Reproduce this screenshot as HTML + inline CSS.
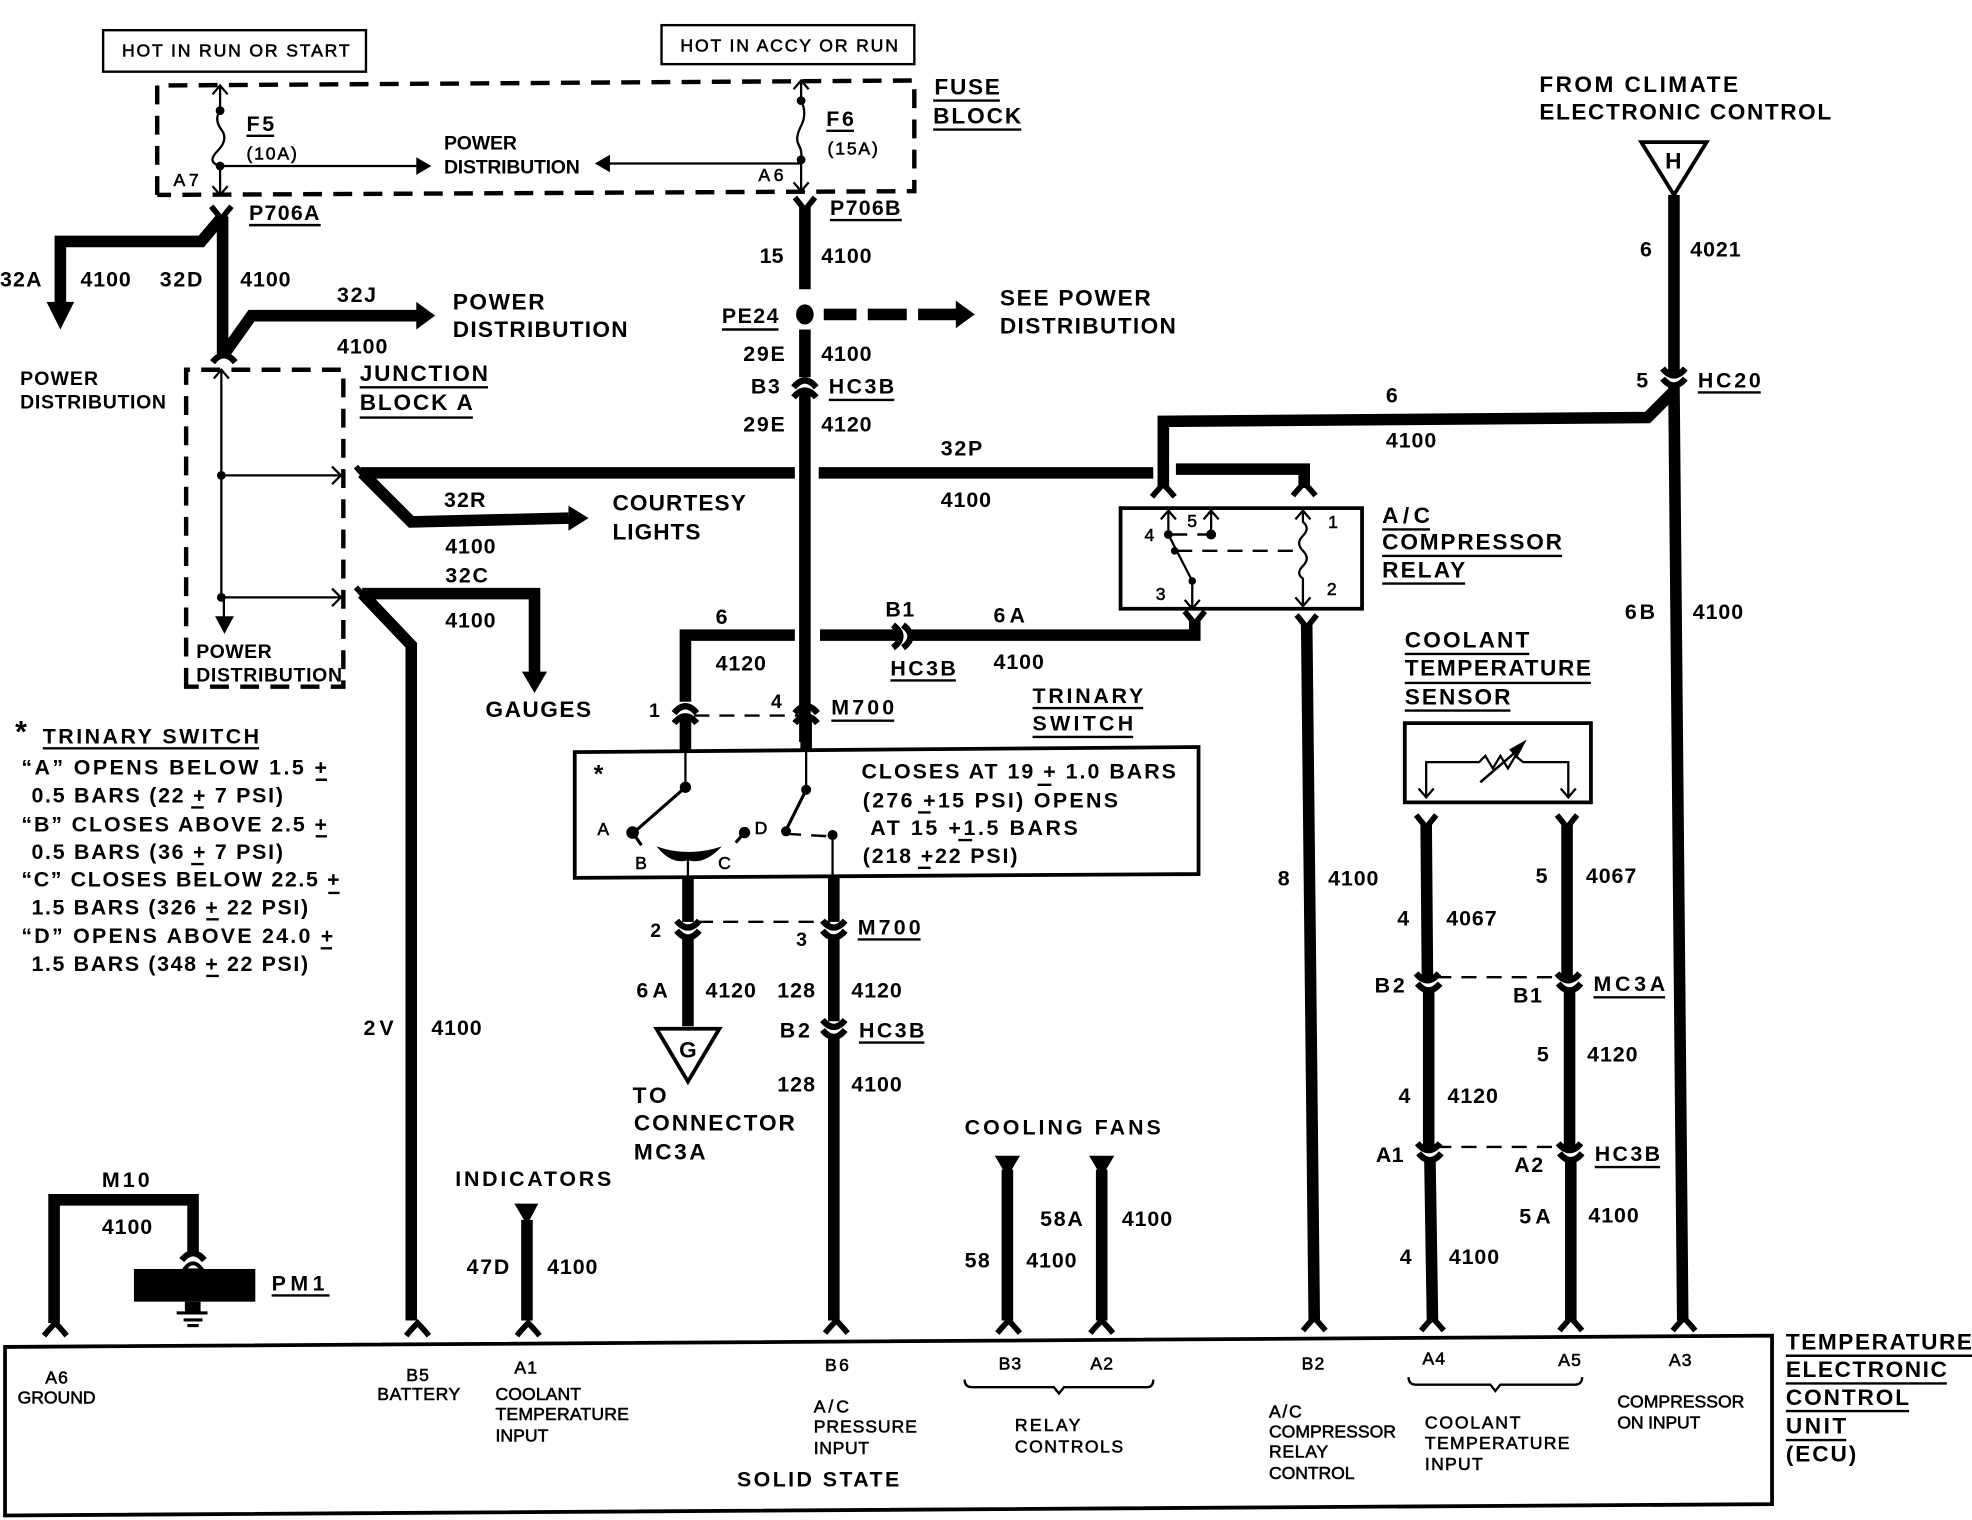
<!DOCTYPE html>
<html><head><meta charset="utf-8"><title>Wiring diagram</title>
<style>
html,body{margin:0;padding:0;background:#fff}
svg{display:block}
text{font-family:"Liberation Sans",sans-serif;font-weight:bold;font-size:17px;fill:#000}
.s{font-size:14px;font-weight:normal;stroke:#000;stroke-width:.45}
.m{font-size:15.5px}.l{font-size:18px}
.w{fill:none;stroke:#000;stroke-width:9.2}
.t{fill:none;stroke:#000;stroke-width:1.8}
.u{fill:none;stroke:#000;stroke-width:1.9}
.d{fill:none;stroke:#000;stroke-width:3.5;stroke-dasharray:15 9}
.h{fill:none;stroke:#000;stroke-width:1.9;stroke-dasharray:12 8}
.b{fill:none;stroke:#000;stroke-width:3}
.k{fill:none;stroke:#000;stroke-width:4.5}
</style></head><body>
<svg xmlns="http://www.w3.org/2000/svg" width="1972" height="1520" viewBox="0 0 1568 1208.6">
<defs>
<path id="a" d="M-9 4Q0 -7 9 4" fill="none" stroke="#000" stroke-width="5"/>
<path id="c" d="M-9 -4Q0 7 9 -4" fill="none" stroke="#000" stroke-width="5"/>
<path id="y" d="M-8 -8L0 2L8 -8" fill="none" stroke="#000" stroke-width="4.5"/>
<path id="n" d="M-9 8Q-4 2 0 -2Q4 2 9 8" fill="none" stroke="#000" stroke-width="4.5"/>
<path id="up" d="M-6 7L0 0L6 7" fill="none" stroke="#000" stroke-width="1.8"/>
<path id="dn" d="M-6 -7L0 0L6 -7" fill="none" stroke="#000" stroke-width="1.8"/>
</defs>

<rect x="82" y="24" width="209" height="33" class="u"/>
<rect x="526" y="20" width="201" height="31" class="u"/>
<path d="M125 155V68L727 64V152L125 155" class="d"/>
<path d="M148 546V294H273V546Z" class="d"/>

<!-- fuses -->
<path d="M175 68V88Q170 95 176 103T173 120T175 132V155M637 64V80Q642 90 637 100T635 115T637 127V152" class="t"/>
<use href="#up" x="175" y="68"/><use href="#dn" x="175" y="155"/><use href="#up" x="637" y="64"/><use href="#dn" x="637" y="152"/>
<circle cx="175" cy="88" r="3.5"/><circle cx="175" cy="132" r="3.5"/><circle cx="637" cy="80" r="3.5"/><circle cx="637" cy="127" r="3.5"/>
<path d="M175 132H332M637 130H484" class="t"/>
<path d="M343 132L331 125V139ZM473 130L485 123V137Z"/>

<!-- main wires left -->
<use href="#y" x="176" y="172"/><use href="#a" x="178" y="284"/>
<path d="M177 172V282M177 172L160 192H48V242M178 282L200 251H332" class="w"/>
<path d="M37 240H59L48 262ZM331 240L346 251L331 262Z"/>
<!-- junction internals -->
<path d="M176 294V475M176 378H270M176 475H270M178 475V495" class="t"/>
<use href="#up" x="176" y="294"/>
<path d="M264 371L271 378L264 385M264 468L271 475L264 482" class="t"/>
<circle cx="176" cy="378" r="3.5"/><circle cx="176" cy="475" r="3.5"/>
<path d="M171 490H186L178.500 504Z"/>

<!-- 32P, 32R, 32C -->
<path d="M287 376H632M651 376H917M935 373H1037V388M925 388V335L1310 332L1332 310" class="w"/>
<path d="M288 376L327 415L452 412M288 472L327 513V1050M288 472H425V537" class="w"/>
<path d="M452 402L468 412L452 422ZM415 534H435L425 551Z"/>
<path d="M283 371L292 381M283 467L292 477" class="k"/>

<!-- center column -->
<use href="#y" x="640" y="165"/>
<path d="M640 165V230M640 262V300M640 312V590" class="w"/>
<ellipse cx="640" cy="250" rx="7" ry="8"/>
<path d="M655 250H681M690 250H721M730 250H762" class="w"/>
<path d="M760 239L775 250L760 261Z"/>
<use href="#a" x="640" y="304"/><use href="#a" x="640" y="312"/>

<!-- 6 / 6A to relay -->
<path d="M545 558V505H632M652 505H714M725 505H950V494" class="w"/>
<path d="M710 497Q722 506 710 515M718 497Q730 506 718 515" fill="none" stroke="#000" stroke-width="5"/>
<use href="#y" x="950" y="494"/>
<use href="#a" x="545" y="563"/><use href="#a" x="545" y="571"/><use href="#a" x="641" y="563"/><use href="#a" x="641" y="571"/>
<path d="M545 572V597M641 572V597" class="w"/>
<path d="M552 569H636" class="h"/>

<!-- trinary switch box -->
<path d="M457 598L953 594V695L457 698Z" class="b"/>
<path d="M545 597V626M641 597V628M547 680V697M662 663V697" class="t"/>
<path d="M545 626L505 661M641 628L625 660M585 670L592 662M503 662L510 672" fill="none" stroke="#000" stroke-width="2.500"/>
<circle cx="545" cy="626" r="4.500"/><circle cx="641" cy="628" r="4"/><circle cx="503" cy="662" r="5"/><circle cx="625" cy="661" r="4"/><circle cx="662" cy="664" r="4"/><circle cx="592" cy="662" r="4.500"/>
<path d="M625 663L660 665" class="h"/>
<path d="M522 673Q547 682 574 673Q560 688 547 684Q534 688 522 673Z"/>
<path d="M547 697V733M663 697V733" class="w"/>
<path d="M555 733H660" class="h"/>
<use href="#c" x="547" y="736"/><use href="#c" x="547" y="744"/><use href="#c" x="663" y="736"/><use href="#c" x="663" y="744"/>
<path d="M547 746V816M663 746V812M663 826V1050" class="w"/>
<use href="#c" x="663" y="815"/><use href="#c" x="663" y="823"/>
<path d="M522 818H572L547 860Z" fill="#fff" stroke="#000" stroke-width="3"/>
<text x="540" y="841" class="l">G</text>

<!-- H -->
<path d="M1305 113H1357L1331 155Z" fill="#fff" stroke="#000" stroke-width="3"/>
<text x="1324" y="134" class="l">H</text>
<path d="M1331 155V296M1331 306L1338 1050" class="w"/>
<use href="#c" x="1331" y="297"/><use href="#c" x="1331" y="305"/>

<!-- relay -->
<path d="M891 404H1083V484L891 484Z" class="b"/>
<use href="#n" x="925" y="387"/><use href="#n" x="1037" y="386"/>
<path d="M929 406V425L948 462V484M963 406V425M1036 406V415Q1042 420 1036 426T1036 438T1036 450T1036 460V482" class="t"/>
<use href="#up" x="929" y="406"/><use href="#up" x="963" y="406"/><use href="#up" x="1036" y="406"/><use href="#dn" x="948" y="484"/><use href="#dn" x="1036" y="482"/>
<circle cx="929" cy="425" r="3.500"/><circle cx="963" cy="425" r="4"/><circle cx="934" cy="438" r="3"/><circle cx="948" cy="462" r="3"/>
<path d="M932 425H960M936 438H1034" class="h"/>
<use href="#y" x="1039" y="497"/>
<path d="M1039 497L1045 1050" class="w"/>

<!-- sensor -->
<path d="M1117 575H1265V638H1117Z" class="b"/>
<path d="M1134 634V606H1176L1181 601L1187 611L1193 601L1199 611L1205 601L1211 606H1247V634" class="t"/>
<use href="#dn" x="1134" y="634"/><use href="#dn" x="1247" y="634"/>
<path d="M1177 622L1205 598" fill="none" stroke="#000" stroke-width="2"/>
<path d="M1214 588L1200 596L1206 603Z"/>
<use href="#y" x="1134" y="656"/><use href="#y" x="1246" y="656"/>
<path d="M1134 656L1135 778M1246 656V778M1136 788V912M1248 788V912M1137 923L1139 1050M1249 923V1050" class="w"/>
<use href="#c" x="1135" y="778"/><use href="#c" x="1136" y="786"/><use href="#c" x="1247" y="778"/><use href="#c" x="1248" y="786"/>
<use href="#c" x="1136" y="913"/><use href="#c" x="1137" y="921"/><use href="#c" x="1248" y="913"/><use href="#c" x="1249" y="921"/>
<path d="M1142 777H1240M1142 912H1240" class="h"/>

<!-- M10 ground -->
<path d="M43 1052V954H153.500V995" class="w"/>
<use href="#a" x="153.500" y="998"/>
<rect x="106.500" y="1009" width="96.500" height="26"/>
<path d="M146 1010Q153.500 999 161 1010Z" fill="#fff" stroke="#000" stroke-width="3"/>
<rect x="147" y="1035" width="12.500" height="8"/>
<path d="M140.500 1044H165M146 1049.500H161M149 1054H158" fill="none" stroke="#000" stroke-width="2.500"/>

<!-- indicators, fans -->
<path d="M419 970V1050M801 930V1050M876 930V1050" class="w"/>
<path d="M409 957H428L419 974ZM791 919H811L801 936ZM866 919H886L876 936Z"/>
<use href="#n" x="44" y="1054"/><use href="#n" x="332" y="1054"/><use href="#n" x="420" y="1054"/><use href="#n" x="665" y="1052"/><use href="#n" x="802" y="1052"/><use href="#n" x="876" y="1052"/><use href="#n" x="1045" y="1050"/><use href="#n" x="1139" y="1050"/><use href="#n" x="1249" y="1050"/><use href="#n" x="1339" y="1050"/>

<!-- ECU -->
<path d="M4 1071L1409 1062V1196L4 1205Z" class="b"/>
<path d="M767 1097Q767 1103 773 1103H838L842 1108L846 1103H912Q917 1103 917 1097M1120 1095Q1120 1101 1126 1101H1185L1189 1106L1193 1101H1252Q1258 1101 1258 1095" class="u"/>

<!-- underlines -->
<path d="M742 80H795M742 103H812M196 108H218M657 104H679M198 179H255M660 175H717M574 262H619M659 318H711M286 308H388M286 332H376M1099 421H1137M1099 442H1242M1099 464H1165M708 541H760M661 573H711M821 563H909M821 586H901M1117 520H1216M1117 543H1265M1117 565H1201M34 595H206M682 747H732M683 829H735M1350 312H1400M1267 793H1324M1268 928H1320M216 1030H262M1420 1078H1568M1420 1100H1548M1420 1122H1518M1420 1145H1468" class="u"/>
<path d="M251 620H260M152 642H162M251 665H260M152 687H162M261 710H270M164 731H174M255 754H264M164 776H174M825 624H836M730 646H740M762 668H773M730 690H740" class="u"/>

<!-- labels -->
<text x="97" y="45" textLength="181" class="s">HOT IN RUN OR START</text>
<text x="541" y="41" textLength="173" class="s">HOT IN ACCY OR RUN</text>
<text x="743" y="75" textLength="52" class="l">FUSE</text>
<text x="742" y="98" textLength="70" class="l">BLOCK</text>
<text x="196" y="104" textLength="22">F5</text>
<text x="196" y="127" textLength="40" class="s">(10A)</text>
<text x="353" y="119" textLength="58" class="m">POWER</text>
<text x="353" y="138" textLength="108" class="m">DISTRIBUTION</text>
<text x="138" y="148" textLength="20" class="s">A7</text>
<text x="603" y="144" textLength="20" class="s">A6</text>
<text x="657" y="100" textLength="22">F6</text>
<text x="658" y="123" textLength="40" class="s">(15A)</text>
<text x="198" y="175" textLength="56">P706A</text>
<text x="660" y="171" textLength="56">P706B</text>
<text x="1224" y="73" textLength="158" class="l">FROM CLIMATE</text>
<text x="1224" y="95" textLength="232" class="l">ELECTRONIC CONTROL</text>
<text x="604" y="209" textLength="19">15</text><text x="653" y="209" textLength="40">4100</text>
<text x="0" y="228" textLength="33">32A</text><text x="64" y="228" textLength="40">4100</text>
<text x="127" y="228" textLength="34">32D</text><text x="191" y="228" textLength="40">4100</text>
<text x="268" y="240" textLength="31">32J</text>
<text x="360" y="246" textLength="73" class="l">POWER</text>
<text x="360" y="268" textLength="139" class="l">DISTRIBUTION</text>
<text x="268" y="281" textLength="40">4100</text>
<text x="795" y="243" textLength="120" class="l">SEE POWER</text>
<text x="795" y="265" textLength="140" class="l">DISTRIBUTION</text>
<text x="574" y="257" textLength="45">PE24</text>
<text x="591" y="287" textLength="33">29E</text><text x="653" y="287" textLength="40">4100</text>
<text x="597" y="313" textLength="23">B3</text><text x="659" y="313" textLength="52">HC3B</text>
<text x="591" y="343" textLength="33">29E</text><text x="653" y="343" textLength="40">4120</text>
<text x="748" y="362" textLength="33">32P</text><text x="748" y="403" textLength="40">4100</text>
<text x="1102" y="320">6</text><text x="1102" y="356" textLength="40">4100</text>
<text x="16" y="306" textLength="62" class="m">POWER</text>
<text x="16" y="325" textLength="116" class="m">DISTRIBUTION</text>
<text x="286" y="303" textLength="102" class="l">JUNCTION</text>
<text x="286" y="326" textLength="90" class="l">BLOCK A</text>
<text x="353" y="403" textLength="33">32R</text><text x="354" y="440" textLength="40">4100</text>
<text x="487" y="406" textLength="106" class="l">COURTESY</text>
<text x="487" y="429" textLength="70" class="l">LIGHTS</text>
<text x="1099" y="416" textLength="38" class="l">A/C</text>
<text x="1099" y="437" textLength="143" class="l">COMPRESSOR</text>
<text x="1099" y="459" textLength="66" class="l">RELAY</text>
<text x="910" y="430" class="s">4</text><text x="944" y="419" class="s">5</text><text x="1056" y="420" class="s">1</text><text x="919" y="477" class="s">3</text><text x="1055" y="473" class="s">2</text>
<text x="354" y="463" textLength="34">32C</text><text x="354" y="499" textLength="40">4100</text>
<text x="386" y="570" textLength="84" class="l">GAUGES</text>
<text x="156" y="523" textLength="60" class="m">POWER</text>
<text x="156" y="542" textLength="116" class="m">DISTRIBUTION</text>
<text x="569" y="496">6</text><text x="569" y="533" textLength="40">4120</text>
<text x="704" y="490" textLength="23">B1</text><text x="790" y="495" textLength="25">6A</text>
<text x="708" y="537" textLength="52">HC3B</text><text x="790" y="532" textLength="40">4100</text>
<text x="516" y="570" class="m">1</text><text x="613" y="563" class="m">4</text>
<text x="661" y="568" textLength="50">M700</text>
<text x="821" y="559" textLength="88">TRINARY</text>
<text x="821" y="581" textLength="80">SWITCH</text>
<text x="1117" y="515" textLength="99" class="l">COOLANT</text>
<text x="1117" y="537" textLength="148" class="l">TEMPERATURE</text>
<text x="1117" y="560" textLength="84" class="l">SENSOR</text>
<text x="12" y="590" style="font-size:24px">*</text>
<text x="34" y="591" textLength="172">TRINARY SWITCH</text>
<text x="17" y="616" textLength="243">“A” OPENS BELOW 1.5 +</text>
<text x="25" y="638" textLength="200">0.5 BARS (22 + 7 PSI)</text>
<text x="17" y="661" textLength="243">“B” CLOSES ABOVE 2.5 +</text>
<text x="25" y="683" textLength="200">0.5 BARS (36 + 7 PSI)</text>
<text x="17" y="705" textLength="253">“C” CLOSES BELOW 22.5 +</text>
<text x="25" y="727" textLength="220">1.5 BARS (326 + 22 PSI)</text>
<text x="17" y="750" textLength="248">“D” OPENS ABOVE 24.0 +</text>
<text x="25" y="772" textLength="220">1.5 BARS (348 + 22 PSI)</text>
<text x="685" y="619" textLength="250">CLOSES AT 19 + 1.0 BARS</text>
<text x="686" y="642" textLength="203">(276 +15 PSI) OPENS</text>
<text x="692" y="664" textLength="165">AT 15 +1.5 BARS</text>
<text x="686" y="686" textLength="123">(218 +22 PSI)</text>
<text x="472" y="622" style="font-size:20px">*</text>
<text x="475" y="664" class="s">A</text><text x="505" y="691" class="s">B</text><text x="571" y="691" class="s">C</text><text x="600" y="663" class="s">D</text>
<text x="517" y="745" class="m">2</text><text x="633" y="752" class="m">3</text>
<text x="682" y="743" textLength="50">M700</text>
<text x="506" y="793" textLength="25">6A</text><text x="561" y="793" textLength="40">4120</text>
<text x="618" y="793" textLength="30">128</text><text x="677" y="793" textLength="40">4120</text>
<text x="620" y="825" textLength="24">B2</text><text x="683" y="825" textLength="52">HC3B</text>
<text x="618" y="868" textLength="30">128</text><text x="677" y="868" textLength="40">4100</text>
<text x="503" y="877" textLength="27" class="l">TO</text>
<text x="504" y="899" textLength="128" class="l">CONNECTOR</text>
<text x="504" y="922" textLength="57" class="l">MC3A</text>
<text x="767" y="902" textLength="156">COOLING FANS</text>
<text x="362" y="943" textLength="124">INDICATORS</text>
<text x="289" y="823" textLength="24">2V</text><text x="343" y="823" textLength="40">4100</text>
<text x="1016" y="704">8</text><text x="1056" y="704" textLength="40">4100</text>
<text x="1292" y="492" textLength="24">6B</text><text x="1346" y="492" textLength="40">4100</text>
<text x="1304" y="204">6</text><text x="1344" y="204" textLength="40">4021</text>
<text x="1301" y="308">5</text><text x="1350" y="308" textLength="50">HC20</text>
<text x="1111" y="736">4</text><text x="1150" y="736" textLength="40">4067</text>
<text x="1221" y="702">5</text><text x="1261" y="702" textLength="40">4067</text>
<text x="1093" y="789" textLength="24">B2</text><text x="1203" y="797" textLength="23">B1</text>
<text x="1267" y="788" textLength="57">MC3A</text>
<text x="1222" y="844">5</text><text x="1262" y="844" textLength="40">4120</text>
<text x="1112" y="877">4</text><text x="1151" y="877" textLength="40">4120</text>
<text x="1094" y="924" textLength="22">A1</text><text x="1204" y="932" textLength="23">A2</text>
<text x="1268" y="923" textLength="52">HC3B</text>
<text x="1208" y="973" textLength="25">5A</text><text x="1263" y="972" textLength="40">4100</text>
<text x="1113" y="1005">4</text><text x="1152" y="1005" textLength="40">4100</text>
<text x="767" y="1008" textLength="20">58</text><text x="816" y="1008" textLength="40">4100</text>
<text x="827" y="975" textLength="34">58A</text><text x="892" y="975" textLength="40">4100</text>
<text x="371" y="1013" textLength="34">47D</text><text x="435" y="1013" textLength="40">4100</text>
<text x="81" y="944" textLength="38">M10</text><text x="81" y="981" textLength="40">4100</text>
<text x="216" y="1026" textLength="42">PM1</text>

<text x="36" y="1100" textLength="18" class="s">A6</text><text x="14" y="1116" textLength="62" class="s">GROUND</text>
<text x="323" y="1098" textLength="18" class="s">B5</text><text x="300" y="1113" textLength="66" class="s">BATTERY</text>
<text x="409" y="1092" textLength="18" class="s">A1</text>
<text x="394" y="1113" textLength="68" class="s">COOLANT</text><text x="394" y="1129" textLength="106" class="s">TEMPERATURE</text><text x="394" y="1146" textLength="42" class="s">INPUT</text>
<text x="656" y="1090" textLength="19" class="s">B6</text>
<text x="647" y="1123" textLength="28" class="s">A/C</text><text x="647" y="1139" textLength="82" class="s">PRESSURE</text><text x="647" y="1156" textLength="44" class="s">INPUT</text>
<text x="586" y="1182" textLength="129">SOLID STATE</text>
<text x="794" y="1089" textLength="18" class="s">B3</text><text x="867" y="1089" textLength="18" class="s">A2</text>
<text x="807" y="1138" textLength="52" class="s">RELAY</text><text x="807" y="1155" textLength="86" class="s">CONTROLS</text>
<text x="1035" y="1089" textLength="18" class="s">B2</text>
<text x="1009" y="1127" textLength="26" class="s">A/C</text><text x="1009" y="1143" textLength="101" class="s">COMPRESSOR</text><text x="1009" y="1159" textLength="47" class="s">RELAY</text><text x="1009" y="1176" textLength="68" class="s">CONTROL</text>
<text x="1131" y="1085" textLength="18" class="s">A4</text><text x="1239" y="1086" textLength="18" class="s">A5</text>
<text x="1133" y="1136" textLength="76" class="s">COOLANT</text><text x="1133" y="1152" textLength="115" class="s">TEMPERATURE</text><text x="1133" y="1169" textLength="46" class="s">INPUT</text>
<text x="1327" y="1086" textLength="18" class="s">A3</text>
<text x="1286" y="1119" textLength="101" class="s">COMPRESSOR</text><text x="1286" y="1136" textLength="66" class="s">ON INPUT</text>
<text x="1420" y="1073" textLength="148" class="l">TEMPERATURE</text>
<text x="1420" y="1095" textLength="128" class="l">ELECTRONIC</text>
<text x="1420" y="1117" textLength="98" class="l">CONTROL</text>
<text x="1420" y="1140" textLength="48" class="l">UNIT</text>
<text x="1420" y="1162" textLength="56" class="l">(ECU)</text>
</svg>
</body></html>
